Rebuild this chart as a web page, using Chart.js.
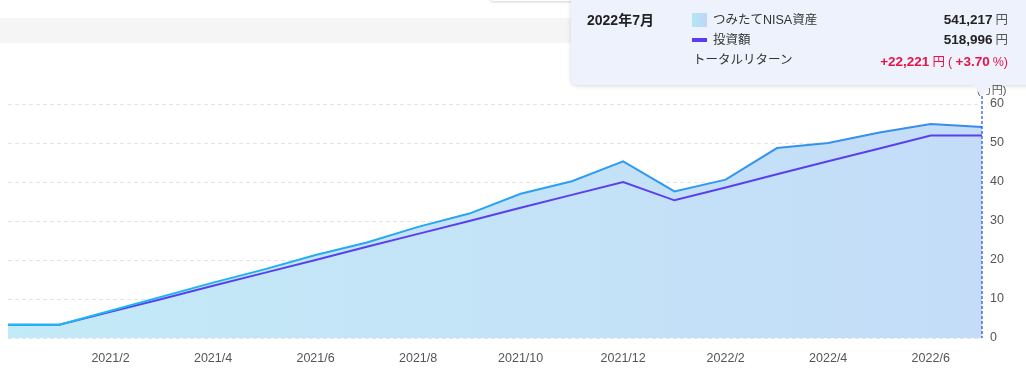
<!DOCTYPE html>
<html>
<head>
<meta charset="utf-8">
<script src="https://cdn.jsdelivr.net/npm/chart.js@4.4.1/dist/chart.umd.min.js"></script>
<style>
  html, body { margin: 0; padding: 0; background: #fff; }
  body { width: 1026px; height: 385px; position: relative; overflow: hidden;
         font-family: "Liberation Sans", "Noto Sans CJK JP", sans-serif; }
  #band { position: absolute; left: 0; top: 18px; width: 1026px; height: 25px; background: #f5f5f5; }
  #chartWrap { position: absolute; left: 0; top: 0; width: 1026px; height: 385px; }
  #topBox { position: absolute; left: 490px; top: -30px; width: 100px; height: 31px; background: #fff;
            border-radius: 4px; box-shadow: 0 1px 3px rgba(0,0,0,0.18); }
  #tip { position: absolute; left: 571px; top: -10px; width: 480px; height: 95px; background: #edf2fc;
         border-radius: 6px; box-shadow: 0 1px 4px rgba(0,0,0,0.16); }
  #caret { position: absolute; left: 972px; top: 85px; width: 0; height: 0;
           border-left: 10px solid transparent; border-right: 10px solid transparent;
           border-top: 11px solid #edf2fc; }
  .t { position: absolute; line-height: 16px; white-space: nowrap; color: #333; font-size: 12.5px; }
  .title { font-weight: bold; font-size: 14px; color: #222; }
  .val { text-align: right; color: #222; }
  .val b { font-size: 13.5px; }
  .val span { color: #555; margin-left: 3px; font-size: 12.5px; }
  .red, .red span { color: #e91248; }
</style>
</head>
<body>
<div id="band"></div>
<div id="chartWrap"><canvas id="chart"></canvas></div>
<div id="topBox"></div>
<div id="tip"></div>
<div id="caret"></div>
<div class="t title" id="tipTitle" style="left:587px; top:12px;"></div>
<div style="position:absolute; left:692px; top:13px; width:15px; height:14px; background:linear-gradient(to right,#b0e6f6,#c2d5f8);"></div>
<div class="t" id="lab1" style="left:713px; top:12px;"></div>
<div class="t val" id="val1" style="right:18px; top:12px;"></div>
<div style="position:absolute; left:692px; top:38px; width:15px; height:4px; background:#5b3cf3;"></div>
<div class="t" id="lab2" style="left:713px; top:32px;"></div>
<div class="t val" id="val2" style="right:18px; top:32px;"></div>
<div class="t" id="lab3" style="left:693px; top:52px;">トータルリターン</div>
<div class="t val red" id="val3" style="right:18px; top:54px;"></div>
<script>
// months shown on the x axis
const months = ['2020/12', '2021/1', '2021/2', '2021/3', '2021/4', '2021/5', '2021/6', '2021/7',
  '2021/8', '2021/9', '2021/10', '2021/11', '2021/12', '2022/1', '2022/2', '2022/3', '2022/4',
  '2022/5', '2022/6', '2022/7'];

// values in yen
const assetValues = [34000, 34000, 70000, 106000, 142000, 176000, 213000, 245000, 285000, 319000,
  370000, 402000, 453000, 376000, 406000, 487000, 500000, 527000, 549000, 541217];
const investValues = [34000, 34000, 67000, 100000, 134000, 167000, 200000, 234000, 267000, 300000,
  334000, 367000, 400000, 353000, 386000, 420000, 453000, 486000, 518996, 518996];

const yTicks = [0, 100000, 200000, 300000, 400000, 500000, 600000];
const assetLabel = 'つみたてNISA資産';
const investLabel = '投資額';
const returnPct = 3.70;

const last = months.length - 1;
const fmt = n => n.toLocaleString('en-US');

// tooltip text
const [yy, mm] = months[last].split('/');
document.getElementById('tipTitle').textContent = yy + '年' + mm + '月';
document.getElementById('lab1').textContent = assetLabel;
document.getElementById('lab2').textContent = investLabel;
document.getElementById('val1').innerHTML = '<b>' + fmt(assetValues[last]) + '</b><span>円</span>';
document.getElementById('val2').innerHTML = '<b>' + fmt(investValues[last]) + '</b><span>円</span>';
const diff = assetValues[last] - investValues[last];
document.getElementById('val3').innerHTML = '<b>+' + fmt(diff) + '</b><span>円</span><span>(</span> <b>+' +
  returnPct.toFixed(2) + '</b><span>%)</span>';

function hGradient(chart, c1, c2, fallback) {
  const a = chart.chartArea;
  if (!a) return fallback;
  const g = chart.ctx.createLinearGradient(a.left, 0, a.right, 0);
  g.addColorStop(0, c1);
  g.addColorStop(1, c2);
  return g;
}

// dotted hover line + axis unit
const extras = {
  id: 'extras',
  afterDatasetsDraw(chart) {
    const ctx = chart.ctx;
    const x = chart.scales.x.getPixelForValue(last);
    ctx.save();
    ctx.strokeStyle = '#1d4fe2';
    ctx.lineWidth = 1.2;
    ctx.setLineDash([3, 2]);
    ctx.beginPath();
    ctx.moveTo(x, 96);
    ctx.lineTo(x, chart.chartArea.bottom);
    ctx.stroke();
    ctx.restore();
  },
  afterDraw(chart) {
    const ctx = chart.ctx;
    ctx.save();
    ctx.font = '11px "Liberation Sans", "Noto Sans CJK JP"';
    ctx.fillStyle = '#555';
    ctx.textBaseline = 'middle';
    ctx.fillText('(万円)', 977, 91);
    ctx.restore();
  }
};

new Chart(document.getElementById('chart'), {
  type: 'line',
  data: {
    labels: months,
    datasets: [
      {
        label: assetLabel,
        data: assetValues,
        borderColor: c => hGradient(c.chart, '#17bdf3', '#3b89ee', '#2aa5f0'),
        backgroundColor: c => hGradient(c.chart, 'rgb(195,234,247)', 'rgb(196,220,248)', 'rgb(195,228,247)'),
        fill: 'origin',
        borderWidth: 2,
        pointRadius: 0,
        tension: 0
      },
      {
        label: investLabel,
        data: investValues,
        borderColor: '#5940ef',
        fill: false,
        borderWidth: 2,
        pointRadius: 0,
        tension: 0
      }
    ]
  },
  options: {
    responsive: true,
    maintainAspectRatio: false,
    animation: false,
    events: [],
    layout: { padding: { top: 104, left: 8, right: 0, bottom: 0 } },
    plugins: {
      legend: { display: false },
      tooltip: { enabled: false },
      filler: { drawTime: 'beforeDatasetsDraw' }
    },
    scales: {
      x: {
        grid: { display: false },
        border: { display: false },
        ticks: {
          autoSkip: false,
          maxRotation: 0,
          padding: 5,
          color: '#555',
          font: { size: 12.5, family: '"Liberation Sans", "Noto Sans CJK JP"' },
          callback: function (v, i) {
            const lab = this.getLabelForValue(v);
            if (i === 0) return '';
            return Number(lab.split('/')[1]) % 2 === 0 ? lab : '';
          }
        },
        afterFit: s => { s.height = 47; }
      },
      y: {
        position: 'right',
        min: yTicks[0],
        max: yTicks[yTicks.length - 1],
        grid: { color: '#e4e4e4', drawTicks: false },
        border: { display: false, dash: [4, 3] },
        afterBuildTicks: s => { s.ticks = yTicks.map(v => ({ value: v })); },
        ticks: {
          padding: 8,
          color: '#555',
          font: { size: 12.5, family: '"Liberation Sans", "Noto Sans CJK JP"' },
          callback: v => v / 10000
        },
        afterFit: s => { s.width = 44; }
      }
    }
  },
  plugins: [extras]
});
</script>
</body>
</html>
